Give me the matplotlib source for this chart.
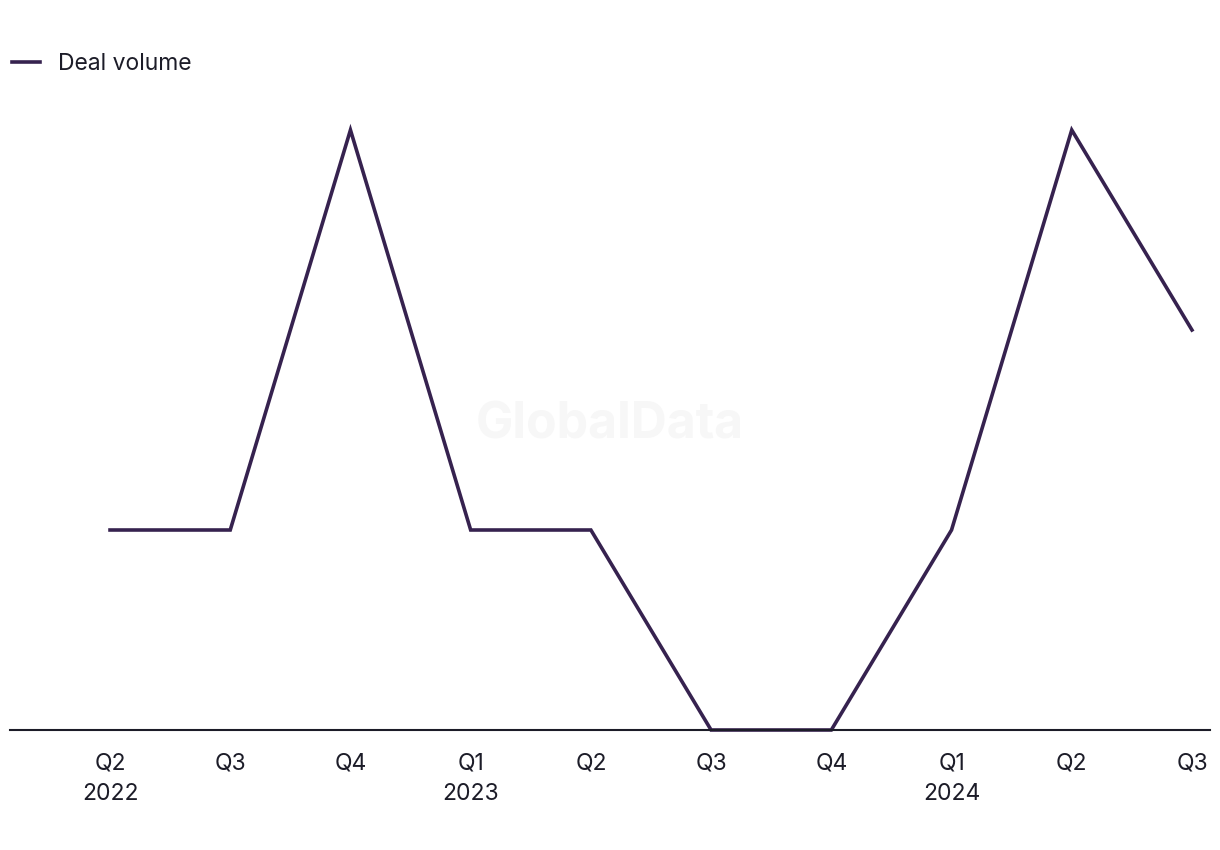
import matplotlib
matplotlib.use('Agg')
from matplotlib import pyplot as plt

# Quarterly deal volume
quarters = ['Q2\n2022', 'Q3', 'Q4', 'Q1\n2023', 'Q2', 'Q3', 'Q4', 'Q1\n2024', 'Q2', 'Q3']
deal_volume = [1, 1, 3, 1, 1, 0, 0, 1, 3, 2]

plt.rcParams['font.family'] = ['Inter', 'DejaVu Sans']

fig = plt.figure(figsize=(12.2, 8.5), dpi=100)
ax = fig.add_axes([10 / 1220, 1 - 730 / 850, 1200 / 1220, 600 / 850])

x = list(range(len(quarters)))
ax.plot(x, deal_volume, color='#36224f', linewidth=2.6, clip_on=False,
        solid_joinstyle='miter', label='Deal volume')

ax.set_xlim(-0.832, 9.15)
ax.set_ylim(0, 3)
ax.set_xticks(x)
ax.set_xticklabels(quarters, fontsize=16.5, color='#1c1c28', linespacing=1.5)
ax.tick_params(axis='x', length=0, pad=16)
ax.set_yticks([])

for side in ['top', 'right', 'left']:
    ax.spines[side].set_visible(False)
ax.spines['bottom'].set_color('#1c1c28')
ax.spines['bottom'].set_linewidth(1.5)

fig.text(610 / 1220, 1 - 425 / 850, 'GlobalData', fontsize=36, fontweight='bold',
         color='#f7f7f7', ha='center', va='center', zorder=0)

fig.legend(loc='upper left', bbox_to_anchor=(-0.007, 1 - 32 / 850), frameon=False,
           fontsize=16.5, handlelength=1.2, handletextpad=0.8, labelcolor='#1c1c28')

fig.savefig('out.png', dpi=100)
